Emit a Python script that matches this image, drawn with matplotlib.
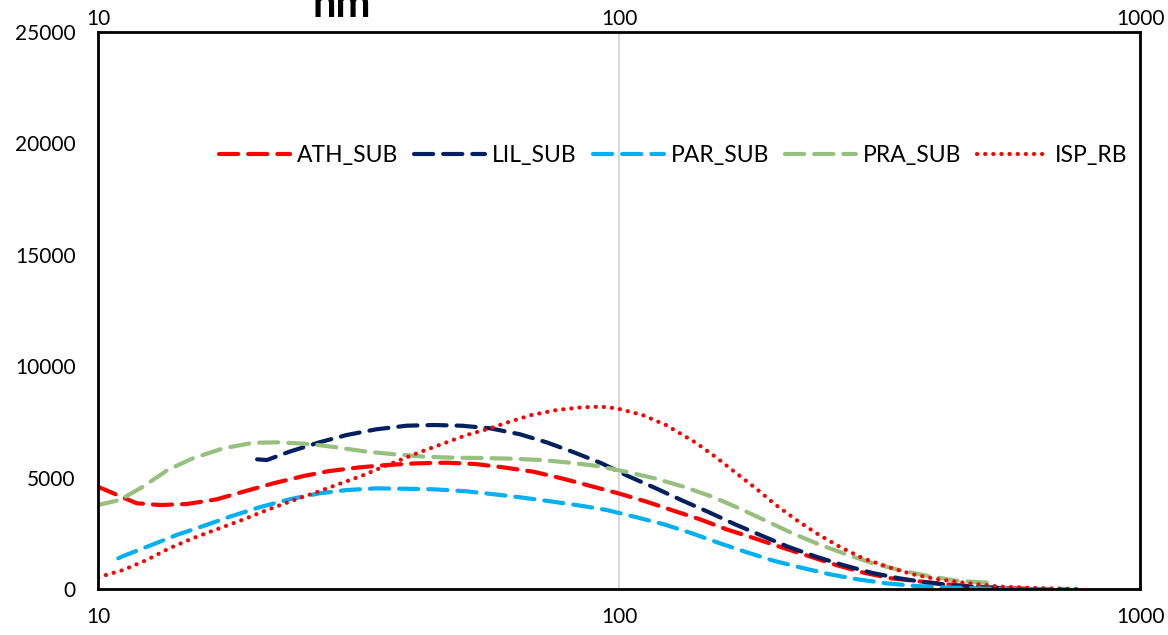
import numpy as np
import matplotlib
matplotlib.use("Agg")
import matplotlib.pyplot as plt
from matplotlib.ticker import FixedLocator, FixedFormatter, NullLocator

plt.rcParams["font.family"] = ["Lato", "DejaVu Sans"]

# ---- data (x in nm, log scale) ----
ath_x = [10, 11.86, 13.15, 14.8, 16.9, 19.0, 21.7, 24.8, 27.8, 31.8, 35.8, 40.9, 46.7, 53.0, 59.9,
         68.5, 77.6, 87.8, 99.7, 113, 129, 143, 160.7, 182, 205, 231, 261, 295, 333, 383, 431, 480, 540, 600]
ath_y = [4590, 3850, 3770, 3815, 4026, 4368, 4744, 5072, 5296, 5462, 5565, 5641, 5670, 5610, 5462,
         5265, 4968, 4636, 4295, 3918, 3470, 3128, 2680, 2276, 1872, 1481, 1077, 732, 480, 328, 200, 110, 50, 20]

lil_x = [20.2, 21.1, 23.3, 26.6, 30.0, 34.2, 39.1, 44.1, 49.9, 56.6, 64.6, 72.6, 82.3, 92.6, 104,
         117, 131.6, 148, 167, 188, 211, 239, 269, 305, 345, 392, 445, 500, 560]
lil_y = [5821, 5790, 6163, 6584, 6912, 7168, 7330, 7361, 7330, 7213, 6943, 6584, 6118, 5641, 5072,
         4547, 3995, 3470, 2904, 2393, 1899, 1450, 1077, 732, 480, 283, 150, 70, 30]

par_x = [10.94, 11.18, 12.67, 14.15, 15.93, 17.9, 20.4, 23.3, 26.6, 30.0, 34.2, 38.5, 44.1, 50.2, 57.0,
         64.6, 73.1, 83.6, 94.7, 107, 122, 138, 155, 176, 198, 224, 254, 287, 326, 372, 421, 500, 600, 720]
par_y = [1378, 1481, 1975, 2424, 2828, 3245, 3667, 4026, 4295, 4443, 4519, 4502, 4475, 4399, 4264,
         4116, 3950, 3757, 3546, 3245, 2904, 2500, 2078, 1647, 1270, 956, 660, 435, 256, 135, 76, 25, 8, 0]

pra_x = [10, 11.0, 12.2, 13.6, 15.2, 17.4, 19.9, 22.3, 25.5, 28.7, 32.8, 37.2, 42.4, 48.4, 54.9,
         62.2, 71.1, 80.4, 91, 103, 117, 133, 151, 169, 190, 214, 241, 272, 307, 345, 392, 445, 510]
pra_y = [3770, 3995, 4592, 5341, 5866, 6315, 6567, 6584, 6508, 6360, 6163, 6046, 5938, 5893, 5880,
         5849, 5790, 5670, 5521, 5265, 4968, 4592, 4143, 3650, 3097, 2527, 2020, 1571, 1154, 853, 583, 373, 283]

isp_x = [10, 11.18, 12.4, 13.7, 15.2, 16.9, 18.9, 21.1, 23.3, 25.9, 28.9, 32.0, 35.3, 40.9, 45.6,
         51.0, 56.6, 60.8, 67.9, 75.9, 84.9, 92.2, 98.9, 110.9, 123, 140, 153, 168, 184, 200, 220,
         241, 265, 294, 330, 366, 406, 459, 537, 640, 780]
isp_y = [525, 853, 1302, 1827, 2276, 2680, 3097, 3546, 3918, 4295, 4699, 5072, 5489, 6091, 6495,
         6912, 7213, 7464, 7810, 8034, 8155, 8184, 8110, 7810, 7361, 6584, 5938, 5192, 4475, 3770, 3066,
         2455, 1899, 1378, 974, 660, 449, 283, 110, 40, 0]

series = [
    ("ATH_SUB", ath_x, ath_y, "#FF0000", (0, (4.6, 2.4))),
    ("LIL_SUB", lil_x, lil_y, "#002060", (0, (4.6, 2.4))),
    ("PAR_SUB", par_x, par_y, "#00B0F0", (0, (4.6, 2.4))),
    ("PRA_SUB", pra_x, pra_y, "#96C07E", (0, (4.6, 2.4))),
    ("ISP_RB", isp_x, isp_y, "#FF0000", (0, (0.05, 1.9))),
]

fig = plt.figure(figsize=(11.68, 6.35), dpi=100)
ax = fig.add_axes([0.0839, 0.0724, 0.8922, 0.8772])

for name, x, y, c, ls in series:
    ax.plot(x, y, color=c, lw=3.0, ls=ls, label=name,
            dash_capstyle="round", solid_capstyle="round")

ax.set_xscale("log")
ax.set_xlim(10, 1000)
ax.set_ylim(0, 25000)
ax.xaxis.set_major_locator(FixedLocator([10, 100, 1000]))
ax.xaxis.set_major_formatter(FixedFormatter(["10", "100", "1000"]))
ax.xaxis.set_minor_locator(NullLocator())
ax.set_yticks([0, 5000, 10000, 15000, 20000, 25000])
ax.set_yticklabels(["0", "5000", "10000", "15000", "20000", "25000"])
ax.tick_params(axis="both", length=0, labelsize=15, colors="black")
ax.tick_params(axis="x", pad=13)
ax.tick_params(axis="y", pad=16)

# same decade labels repeated above the frame
sec = ax.secondary_xaxis("top")
sec.xaxis.set_major_locator(FixedLocator([10, 100, 1000]))
sec.xaxis.set_major_formatter(FixedFormatter(["10", "100", "1000"]))
sec.xaxis.set_minor_locator(NullLocator())
sec.tick_params(length=0, labelsize=15, pad=2)
sec.spines["top"].set_visible(False)

ax.grid(axis="x", which="major", color="#d9d9d9", lw=1.5)
ax.set_axisbelow(True)
for s in ax.spines.values():
    s.set_linewidth(2)
    s.set_color("black")

ax.legend(loc="center", bbox_to_anchor=(0.552, 0.779), ncol=5, frameon=False,
          fontsize=16.5, handlelength=3.1, handletextpad=0.3, columnspacing=0.7)

fig.text(0.293, 0.973, "nm", fontsize=30, fontweight="bold", ha="center", va="baseline")

fig.savefig("out.png", dpi=100)
